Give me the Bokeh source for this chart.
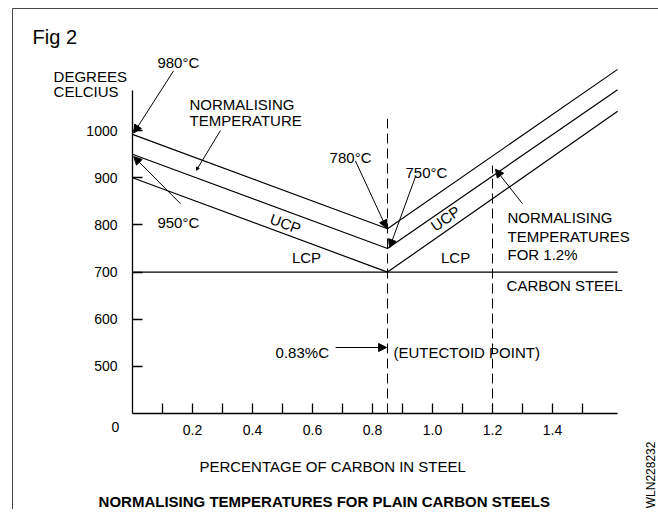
from bokeh.plotting import figure
from bokeh.models import Range1d, FixedTicker, Label, Arrow, NormalHead, NumeralTickFormatter
from bokeh.embed import file_html
from bokeh.resources import INLINE
import math

# ---- data ----
carbon = [0.0, 0.85, 1.617]              # % carbon break points
normalising = [992, 792, 1130]           # normalising temperature line
ucp = [950, 750, 1087]                   # upper critical point
lcp = [900, 700, 1041]                   # lower critical point
a1_carbon = [0.0, 1.617]
a1_temp = [700, 700]
eutectoid_carbon = [0.85, 0.85]
eutectoid_temp = [400, 1025]
steel12_carbon = [1.2, 1.2]
steel12_temp = [400, 926]

y_ticks = [500, 600, 700, 800, 900, 1000]
x_major = [0.2, 0.4, 0.6, 0.8, 1.0, 1.2, 1.4]
x_minor = [0.1, 0.3, 0.5, 0.7, 0.9, 1.1, 1.3, 1.5]

FONT = "Liberation Sans"

p = figure(width=658, height=509, output_backend="svg", toolbar_location=None,
           x_range=Range1d(-0.44, 1.7533), y_range=Range1d(196.35, 1276.1),
           min_border_left=0, min_border_right=0, min_border_top=0,
           min_border_bottom=0)
p.xgrid.visible = False
p.ygrid.visible = False
p.outline_line_color = None
p.background_fill_color = "white"
p.border_fill_color = "white"

for ax in (p.xaxis[0], p.yaxis[0]):
    ax.axis_line_color = "black"
    ax.axis_line_width = 1.3
    ax.major_tick_line_color = "black"
    ax.major_tick_line_width = 1.3
    ax.minor_tick_line_color = "black"
    ax.minor_tick_line_width = 1.3
    ax.major_tick_in = 10
    ax.major_tick_out = 0
    ax.minor_tick_in = 10
    ax.minor_tick_out = 0
    ax.major_label_text_font = FONT
    ax.major_label_text_font_size = "14px"
    ax.major_label_text_color = "black"

p.xaxis[0].ticker = FixedTicker(ticks=x_major, minor_ticks=x_minor)
p.xaxis[0].formatter = NumeralTickFormatter(format="0.0")
p.xaxis[0].bounds = (0, 1.617)
p.xaxis[0].fixed_location = 400
p.xaxis[0].major_label_standoff = 12
p.yaxis[0].ticker = FixedTicker(ticks=y_ticks, minor_ticks=[])
p.yaxis[0].bounds = (400, 1085)
p.yaxis[0].fixed_location = 0
p.yaxis[0].major_label_standoff = 15

LW = 1.2
p.line(carbon, normalising, line_color="black", line_width=LW)
p.line(carbon, ucp, line_color="black", line_width=LW)
p.line(carbon, lcp, line_color="black", line_width=LW)
p.line(a1_carbon, a1_temp, line_color="black", line_width=LW)
p.line(eutectoid_carbon, eutectoid_temp, line_color="black", line_width=1, line_dash="10 5")
p.line(steel12_carbon, steel12_temp, line_color="black", line_width=1, line_dash="10 5")

def lab(x, y, text, size="15px", align="left", baseline="alphabetic", angle=0.0, style="normal"):
    p.add_layout(Label(x=x, y=y, text=text, text_font=FONT, text_font_size=size,
                       text_align=align, text_baseline=baseline, angle=angle,
                       text_font_style=style, text_color="black"))

lab(-0.333, 1198, "Fig 2", size="20px")
lab(-0.263, 1115, "DEGREES")
lab(-0.263, 1083, "CELCIUS")
lab(0.083, 1145, "980°C")
lab(0.19, 1056, "NORMALISING")
lab(0.19, 1022, "TEMPERATURE")
lab(0.083, 806, "950°C")
lab(0.51, 803, "UCP", align="center", baseline="middle", angle=-0.352)
lab(0.58, 731, "LCP", align="center", baseline="middle")
lab(0.657, 943, "780°C")
lab(0.91, 911, "750°C")
lab(1.043, 814, "UCP", align="center", baseline="middle", angle=0.606)
lab(1.077, 731, "LCP", align="center", baseline="middle")
lab(1.25, 816, "NORMALISING")
lab(1.25, 776, "TEMPERATURES")
lab(1.25, 737, "FOR 1.2%")
lab(1.247, 672, "CARBON STEEL")
lab(0.477, 530, "0.83%C")
lab(0.87, 530, "(EUTECTOID POINT)")
lab(-0.057, 371, "0", size="14px", align="center")
lab(0.223, 288, "PERCENTAGE OF CARBON IN STEEL")
lab(-0.113, 213, "NORMALISING TEMPERATURES FOR PLAIN CARBON STEELS", style="bold")
lab(1.727, 199, "WLN228232", size="12px", align="left", baseline="middle", angle=math.pi / 2)

def arrow(x0, y0, x1, y1, size=8):
    p.add_layout(Arrow(x_start=x0, y_start=y0, x_end=x1, y_end=y1, line_width=1,
                       line_color="black",
                       end=NormalHead(size=size, fill_color="black", line_color="black",
                                      line_width=1)))

arrow(0.137, 1127, 0.004, 995)
arrow(0.16, 845, 0.004, 945)
arrow(0.743, 936, 0.847, 793)
arrow(0.943, 902, 0.857, 752)
arrow(1.3, 845, 1.21, 918)
arrow(0.677, 540, 0.847, 540)
arrow(0.293, 1000, 0.213, 916, size=3)

# drawing frame
for xs, ys, xe, ye in [(-0.4, 1259.1, 1.7533, 1259.1), (-0.4, 1259.1, -0.4, 196.35)]:
    p.add_layout(Arrow(x_start=xs, y_start=ys, x_end=xe, y_end=ye, end=None,
                       line_color="#444444", line_width=1))

open("out.html", "w").write(file_html(p, INLINE))
